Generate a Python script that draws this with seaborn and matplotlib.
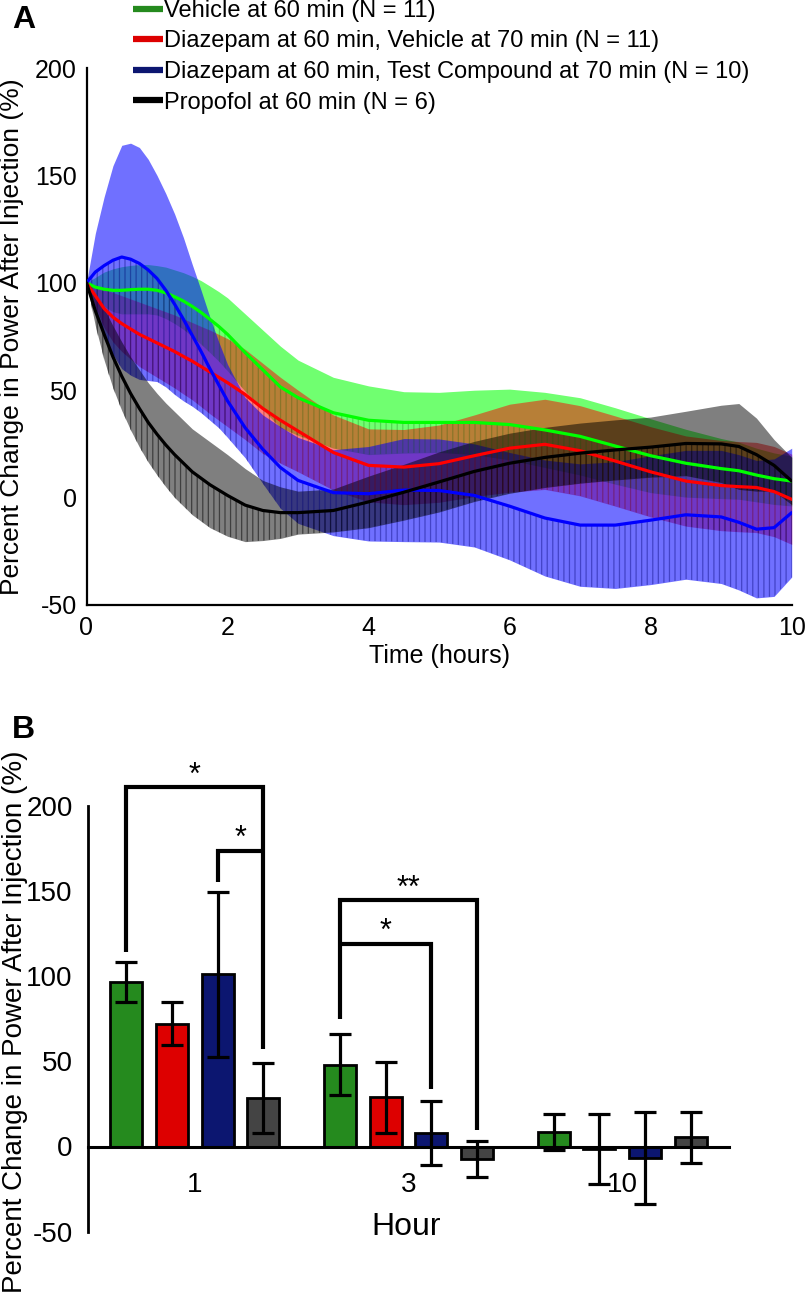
import matplotlib
matplotlib.use("Agg")
import numpy as np
import pandas as pd
import matplotlib.pyplot as plt
import seaborn as sns
from matplotlib.lines import Line2D

# ---------------- data: panel A (time course, mean and SEM band) ----------------
time_h = [0, 0.125, 0.25, 0.375, 0.5, 0.625, 0.75, 0.875, 1, 1.125, 1.25, 1.375, 1.5,
          1.625, 1.75, 1.875, 2, 2.25, 2.5, 2.75, 3, 3.5, 4, 4.5, 5, 5.5, 6, 6.5, 7,
          7.5, 8, 8.5, 9, 9.25, 9.5, 9.75, 10]

veh_mean = [100, 98, 97, 96.5, 96.5, 96.8, 97, 97, 96.5, 95.3, 93.5, 91.5, 89, 86.2,
            83, 79.7, 76, 67.5, 59.5, 51.5, 46.5, 39.5, 36, 35, 35, 35, 34, 31.5, 28.5,
            24, 19.5, 16, 13.5, 12.5, 10.5, 8.8, 7.7]
veh_sem = [0, 4.5, 8, 10, 11, 11.3, 11.5, 11.5, 11.5, 12, 12.5, 13.2, 14, 14.8, 15.5,
           16.2, 17, 18, 18.5, 19, 17.5, 16.5, 16, 14.3, 14, 15, 16.5, 17.5, 18, 17.8,
           17.2, 15.8, 14, 13.3, 12.5, 12, 11.6]

dzv_mean = [100, 94, 88, 84, 81, 78.5, 76, 74, 72, 70, 68, 65.7, 63.5, 61, 58.5, 56,
            53.5, 48, 41.5, 36, 31, 21, 15, 14.2, 15.8, 19.5, 23, 24.8, 21.8, 17, 12,
            7.7, 5.6, 5.1, 4.7, 2.8, -0.8]
dzv_sem = [0, 5, 9, 11.5, 13, 14, 15, 15.5, 16, 16.5, 17, 17.5, 18, 18.7, 19.5, 20,
           20.5, 21, 21, 20, 19, 17.5, 17, 17.5, 18, 19, 20.5, 21, 21, 21, 21, 21, 21,
           21, 21, 21, 21]

dzt_mean = [100, 105, 108, 110.5, 112, 111, 109, 106, 102, 96.5, 90, 83, 75.5, 68, 60,
            52.5, 45, 32.5, 22.5, 14, 8, 2.3, 1.8, 3.5, 3.3, 1, -4, -9.5, -12.8, -12.8,
            -10.5, -8, -9, -11.5, -14.7, -14, -7]
dzt_sem = [0, 18, 32, 44, 52, 54, 54, 51.5, 48, 45, 42, 38, 33, 28.5, 24, 20, 17, 14,
           16, 19, 20, 20, 22, 24, 24, 24, 25, 27, 28.5, 29.5, 30, 30, 31, 31.5, 32, 32, 30]

prop_mean = [100, 87, 76, 65.5, 56.5, 48.5, 41.5, 35, 29.5, 24.5, 20, 16, 12, 9, 6, 3.5,
             1, -3.5, -6, -7, -7, -6, -2, 2.5, 7.3, 12.2, 16, 18.7, 20.7, 22.2, 23.5,
             25.2, 25, 23.8, 20, 15, 7.7]
prop_sem = [0, 7, 12, 14.5, 16, 17, 18, 18.5, 19, 19.5, 20, 20, 20, 20, 20, 19.5, 19,
            17, 14, 12, 10, 10, 12, 13, 14, 14, 14, 14, 14, 14, 14, 15, 18, 20, 17, 12, 11]

series_labels = ["Vehicle at 60 min (N = 11)",
                 "Diazepam at 60 min, Vehicle at 70 min (N = 11)",
                 "Diazepam at 60 min, Test Compound at 70 min (N = 10)",
                 "Propofol at 60 min (N = 6)"]

# ---------------- data: panel B (bars, mean +/- SEM) ----------------
bar_hours = ["1", "3", "10"]
veh_bar = [96.4, 48.1, 8.4]
veh_err = [11.7, 18.0, 10.5]
dzv_bar = [72.0, 28.9, -1.5]
dzv_err = [12.7, 20.8, 20.5]
dzt_bar = [101.0, 8.0, -6.8]
dzt_err = [48.5, 18.6, 27.2]
prop_bar = [28.6, -7.5, 5.5]
prop_err = [20.5, 10.5, 15.0]

# significance brackets: (left bar, right bar, left foot, top, right foot, label)
brackets = [(0, 3, 114, 211, 57.5, "*"),
            (2, 3, 155, 173.7, 173.7, "*"),
            (4, 7, 75, 144.4, 9.4, "**"),
            (4, 6, 119, 119, 34, "*")]

# ---------------- style ----------------
line_colors = ["#00FF00", "#FF0000", "#0000FF", "#000000"]
band_alpha = [0.56, 0.5, 0.56, 0.5]
hatch_colors = [(0, 0.35, 0, 0.25), (0.45, 0, 0, 0.35), (0, 0, 0.45, 0.4), (0, 0, 0, 0.5)]
bar_colors = ["#258A1E", "#DD0000", "#0C1670", "#444444"]

sns.set_theme(style="white")
plt.rcParams["font.family"] = ["Liberation Sans", "DejaVu Sans"]
for k in ["text.color", "axes.labelcolor", "xtick.color", "ytick.color", "axes.edgecolor"]:
    plt.rcParams[k] = "black"
plt.rcParams["hatch.linewidth"] = 0.9
plt.rcParams["axes.unicode_minus"] = False

W, H = 806, 1301
fig = plt.figure(figsize=(W / 100, H / 100), dpi=100)


def px_axes(l, t, r, b):
    return fig.add_axes([l / W, 1 - b / H, (r - l) / W, (b - t) / H])


axA = px_axes(86.5, 68, 791.7, 605)
axB = px_axes(88, 805.7, 729, 1231.7)

# ---------------- panel A ----------------
means = [veh_mean, dzv_mean, dzt_mean, prop_mean]
sems = [veh_sem, dzv_sem, dzt_sem, prop_sem]
t = np.array(time_h)
for m, s, c, a, hc in zip(means, sems, line_colors, band_alpha, hatch_colors):
    m = np.array(m)
    s = np.array(s)
    axA.fill_between(t, m - s, m + s, color=c, alpha=a, lw=0, zorder=1)
    axA.fill_between(t, m - s, m, facecolor="none", edgecolor=hc, hatch="|||",
                     lw=0, zorder=1.5)

dfA = pd.concat([pd.DataFrame({"Time": time_h, "Value": m, "Group": n})
                 for m, n in zip(means, series_labels)], ignore_index=True)
sns.lineplot(data=dfA, x="Time", y="Value", hue="Group", hue_order=series_labels,
             palette=line_colors, lw=2.3, legend=False, errorbar=None, ax=axA, zorder=3)

axA.set_xlim(0, 10)
axA.set_ylim(-50, 200)
axA.set_xticks([0, 2, 4, 6, 8, 10])
axA.set_yticks([-50, 0, 50, 100, 150, 200])
for sp in ["top", "right"]:
    axA.spines[sp].set_visible(False)
for sp in ["left", "bottom"]:
    axA.spines[sp].set_linewidth(1.6)
    axA.spines[sp].set_color("black")
axA.tick_params(axis="both", direction="in", length=4, width=1.3, labelsize=18)
axA.tick_params(axis="x", pad=8)
axA.tick_params(axis="y", pad=7)
axA.set_xlabel("Time (hours)", fontsize=18, labelpad=3)
axA.set_ylabel("Percent Change in Power After Injection (%)", fontsize=19)
axA.yaxis.set_label_coords(-0.0886, 0.5)

handles = [Line2D([0], [0], color=c, lw=4.5, solid_capstyle="butt")
           for c in bar_colors[:3] + ["#000000"]]
fig.legend(handles, series_labels, loc="upper left", bbox_to_anchor=(133 / W, 1.0),
           frameon=False, fontsize=17, handlelength=1.25, handletextpad=0.08,
           labelspacing=0.36, borderpad=0, borderaxespad=0)

fig.text(12 / W, 1 - 28 / H, "A", fontsize=23, fontweight="bold", va="baseline")
fig.text(12 / W, 1 - 738 / H, "B", fontsize=23, fontweight="bold", va="baseline")

# ---------------- panel B ----------------
bar_vals = [veh_bar, dzv_bar, dzt_bar, prop_bar]
bar_errs = [veh_err, dzv_err, dzt_err, prop_err]
dfB = pd.DataFrame({
    "Hour": [h for _ in series_labels for h in bar_hours],
    "Group": [g for g in series_labels for _ in bar_hours],
    "Value": [v for vals in bar_vals for v in vals],
})
sns.barplot(data=dfB, x="Hour", y="Value", hue="Group", order=bar_hours,
            hue_order=series_labels, palette=bar_colors, saturation=1,
            width=0.855, gap=0.3, errorbar=None, edgecolor="black", linewidth=2,
            legend=False, ax=axB, zorder=2)

patches = sorted([p for p in axB.patches if p.get_width() > 0], key=lambda p: p.get_x())
centers = [p.get_x() + p.get_width() / 2 for p in patches]
vals_flat = [bar_vals[g][h] for h in range(len(bar_hours)) for g in range(len(series_labels))]
errs_flat = [bar_errs[g][h] for h in range(len(bar_hours)) for g in range(len(series_labels))]
axB.errorbar(centers, vals_flat, yerr=errs_flat, fmt="none", ecolor="black",
             elinewidth=2.3, capsize=8, capthick=2.3, zorder=4, clip_on=False)

for i, j, yl, yt, yr, lab in brackets:
    xs = [centers[i], centers[i], centers[j], centers[j]]
    ys = [yl, yt, yt, yr]
    axB.plot(xs, ys, color="black", lw=3, clip_on=False, solid_joinstyle="miter",
             solid_capstyle="butt", zorder=5)
    axB.text((centers[i] + centers[j]) / 2, yt + 2, lab, ha="center", va="baseline",
             fontsize=22)

axB.set_xlim(-0.5, 2.5)
axB.set_ylim(-50, 200)
axB.set_yticks([-50, 0, 50, 100, 150, 200])
for sp in ["top", "right"]:
    axB.spines[sp].set_visible(False)
axB.spines["bottom"].set_position(("data", 0))
axB.spines["bottom"].set_linewidth(2.2)
axB.spines["left"].set_linewidth(2)
axB.tick_params(axis="y", direction="out", length=9, width=2, labelsize=20, pad=2)
axB.tick_params(axis="x", direction="out", length=9, width=1.5, labelsize=20, pad=9)
axB.set_xlabel("Hour", fontsize=23)
axB.xaxis.set_label_coords(0.496, 0.046)
axB.set_ylabel("Percent Change in Power After Injection (%)", fontsize=20)
axB.yaxis.set_label_coords(-0.0936, 0.492)

fig.savefig("out.png", dpi=100)
